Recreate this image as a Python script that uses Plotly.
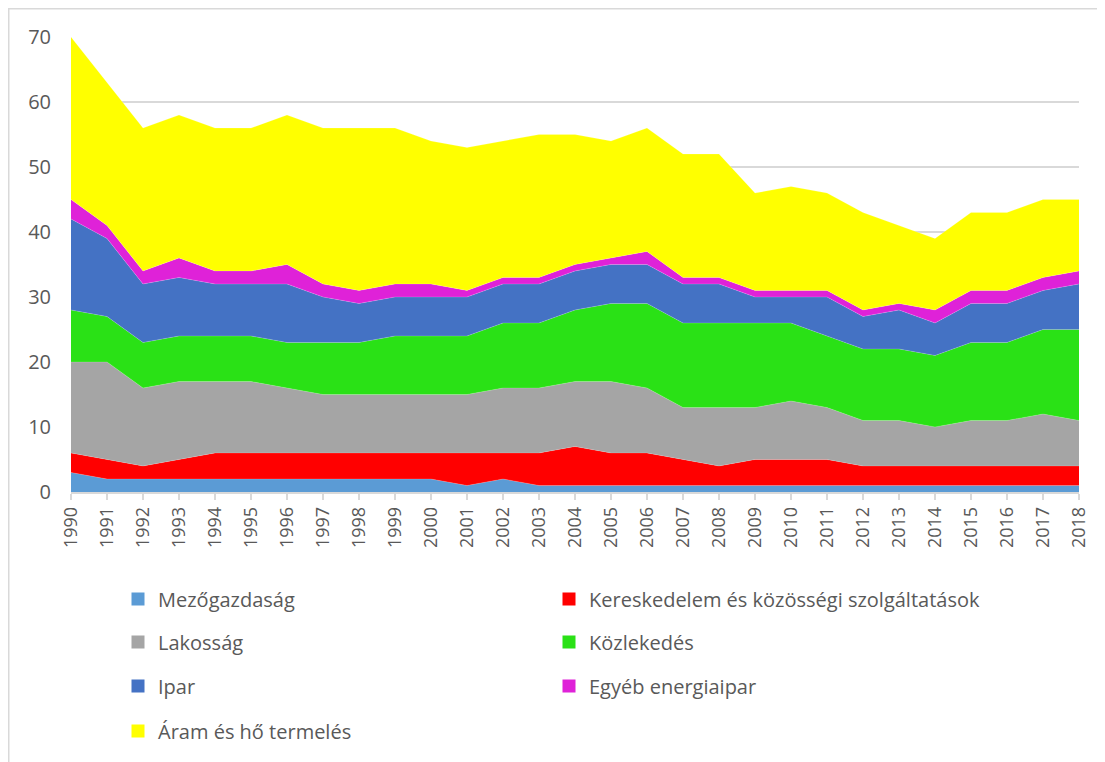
import plotly.graph_objects as go

years = list(range(1990, 2019))

mezogazdasag = [3, 2, 2, 2, 2, 2, 2, 2, 2, 2, 2, 1, 2, 1, 1, 1, 1, 1, 1, 1, 1, 1, 1, 1, 1, 1, 1, 1, 1]
kereskedelem = [3, 3, 2, 3, 4, 4, 4, 4, 4, 4, 4, 5, 4, 5, 6, 5, 5, 4, 3, 4, 4, 4, 3, 3, 3, 3, 3, 3, 3]
lakossag     = [14, 15, 12, 12, 11, 11, 10, 9, 9, 9, 9, 9, 10, 10, 10, 11, 10, 8, 9, 8, 9, 8, 7, 7, 6, 7, 7, 8, 7]
kozlekedes   = [8, 7, 7, 7, 7, 7, 7, 8, 8, 9, 9, 9, 10, 10, 11, 12, 13, 13, 13, 13, 12, 11, 11, 11, 11, 12, 12, 13, 14]
ipar         = [14, 12, 9, 9, 8, 8, 9, 7, 6, 6, 6, 6, 6, 6, 6, 6, 6, 6, 6, 4, 4, 6, 5, 6, 5, 6, 6, 6, 7]
egyeb        = [3, 2, 2, 3, 2, 2, 3, 2, 2, 2, 2, 1, 1, 1, 1, 1, 2, 1, 1, 1, 1, 1, 1, 1, 2, 2, 2, 2, 2]
aram         = [25, 22, 22, 22, 22, 22, 23, 24, 25, 24, 22, 22, 21, 22, 20, 18, 19, 19, 19, 15, 16, 15, 15, 12, 11, 12, 12, 12, 11]

series = [
    ("Mezőgazdaság", mezogazdasag, "#5B9BD5"),
    ("Kereskedelem és közösségi szolgáltatások", kereskedelem, "#FF0000"),
    ("Lakosság", lakossag, "#A5A5A5"),
    ("Közlekedés", kozlekedes, "#2AE116"),
    ("Ipar", ipar, "#4472C4"),
    ("Egyéb energiaipar", egyeb, "#DF22D8"),
    ("Áram és hő termelés", aram, "#FFFF00"),
]

fig = go.Figure()
for name, vals, col in series:
    fig.add_trace(go.Scatter(
        x=years, y=vals, name=name, stackgroup="one", mode="lines",
        line=dict(width=0.5, color="rgba(255,255,255,0.35)"), fillcolor=col,
        showlegend=False, hoverinfo="x+y+name"))

legend_names = ["legend", "legend", "legend2", "legend2", "legend3", "legend3", "legend4"]
for (name, vals, col), lg in zip(series, legend_names):
    fig.add_trace(go.Scatter(
        x=[None], y=[None], mode="markers", name=name,
        marker=dict(symbol="square", size=13, color=col),
        showlegend=True, legend=lg))

font_color = "#595959"
font_family = "Open Sans, Liberation Sans, sans-serif"

# figure pixel coordinates (page has an 8px body margin)
OFF = 8
W, Hfig = 1105, 762
plot_left, plot_top = 71 - OFF, 37 - OFF
plot_w, plot_h = 1008, 455
plot_bottom = plot_top + plot_h

row_y = [599 - OFF, 642 - OFF, 686 - OFF, 731 - OFF]

def leg(ypx):
    return dict(
        orientation="h", x=(118 - OFF - plot_left) / plot_w, xanchor="left",
        y=(plot_bottom - ypx) / plot_h, yanchor="middle",
        entrywidth=386, entrywidthmode="pixels", itemwidth=30,
        font=dict(family=font_family, size=20, color=font_color),
        bgcolor="rgba(0,0,0,0)", traceorder="normal")

fig.update_layout(
    width=W, height=Hfig,
    margin=dict(l=plot_left, r=W - plot_left - plot_w, t=plot_top, b=Hfig - plot_bottom,
                autoexpand=False),
    paper_bgcolor="white", plot_bgcolor="white",
    font=dict(family=font_family, color=font_color),
    legend=leg(row_y[0]), legend2=leg(row_y[1]),
    legend3=leg(row_y[2]), legend4=leg(row_y[3]),
)

fig.update_yaxes(
    range=[0, 70], dtick=10, showgrid=True, gridcolor="#D9D9D9", gridwidth=1.5,
    zeroline=False, showline=False, ticks="",
    tickfont=dict(size=20, color=font_color, family=font_family),
    ticklabelstandoff=19)

fig.update_xaxes(
    range=[1990, 2018], tickmode="array", tickvals=years, ticktext=[str(y) for y in years],
    tickangle=-90, showgrid=False, showline=True, linecolor="#D9D9D9", linewidth=1.5,
    ticks="outside", ticklen=6, tickcolor="#D9D9D9", tickwidth=1.5,
    tickfont=dict(size=18, color=font_color, family=font_family),
    zeroline=False)

# outer chart border (figure edge)
fig.add_shape(type="rect", xref="paper", yref="paper",
              x0=(0.75 - plot_left) / plot_w, x1=(W - 0.75 - plot_left) / plot_w,
              y0=(plot_bottom - (Hfig - 0.75)) / plot_h, y1=(plot_bottom - 0.75) / plot_h,
              line=dict(color="#D9D9D9", width=1.5), fillcolor="rgba(0,0,0,0)", layer="below")

fig.write_html("out.html")
